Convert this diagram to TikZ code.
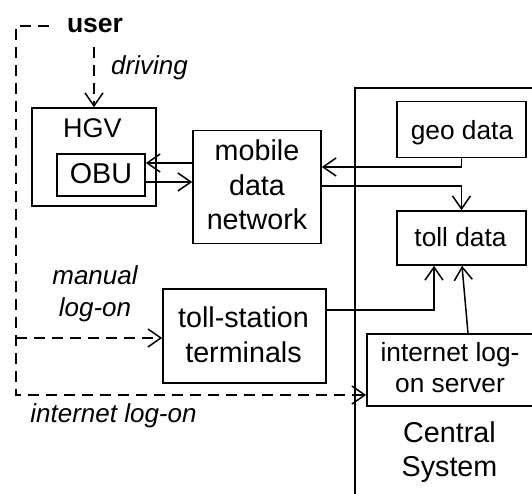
\documentclass[tikz,border=0pt]{standalone}
\usepackage{fontspec}
\setmainfont{Liberation Sans}
\usetikzlibrary{arrows.meta}
\begin{document}
\begin{tikzpicture}[x=1pt,y=-1pt,
  box/.style={draw, line width=1.6pt, inner sep=0pt},
  big/.style={inner sep=0pt, align=center, font=\fontsize{28.7}{34.5}\selectfont},
  mid/.style={inner sep=0pt, align=center, font=\fontsize{26.3}{31}\selectfont},
  lbl/.style={inner sep=0pt, align=center, font=\fontsize{26}{32}\selectfont\itshape},
  arr/.style={line width=1.5pt, -{Straight Barb[length=13pt,width=18pt,line width=1.5pt]}},
  ln/.style={line width=1.5pt},
  dsh/.style={line width=2.8pt, dash pattern=on 11pt off 7pt},
  darr/.style={-{Straight Barb[length=13pt,width=18pt,line width=1.5pt]}}]
\clip (0,0) rectangle (532,494);
\fill[white] (0,0) rectangle (532,494);
% central system outline
\draw[ln] (355,500) -- (355,88) -- (540,88);
\node[big] (cs) at (449.5,452) {Central\\System};
% boxes
\node[box, minimum width=124pt, minimum height=98pt] (hgv) at (94,157) {};
\node[inner sep=0pt, font=\fontsize{27}{32}\selectfont] (hgvt) at (92.5,128.5) {HGV};
\node[box, minimum width=88pt, minimum height=42pt] (obu) at (101,175) {};
\node[big] (obut) at (101,173.5) {OBU};
\node[box, minimum width=128pt, minimum height=113pt] (mob) at (257,187) {};
\node[big] (mobt) at (257,185) {mobile\\data\\network};
\node[box, minimum width=129pt, minimum height=56pt] (geo) at (461.5,129.5) {};
\node[mid] (geot) at (462,133.2) {geo data};
\node[box, minimum width=129pt, minimum height=54pt] (toll) at (461.5,238) {};
\node[mid] (tollt) at (460.5,237.4) {toll data};
\node[box, minimum width=163pt, minimum height=94pt] (ts) at (244.5,336) {};
\node[big] (tst) at (243.5,334.5) {toll-station\\terminals};
\node[box, minimum width=178pt, minimum height=72pt] (srv) at (456,370) {};
\node[mid] (srvt) at (450,368) {internet log-\\on server};
% solid connectors
\coordinate (m1) at ([yshift=24pt]mob.west);
\draw[arr] (m1) -- (m1 -| obu.east);
\coordinate (o1) at ([yshift=-7pt]obu.east);
\draw[arr] (o1) -- (o1 -| mob.west);
\coordinate (m2) at ([yshift=20pt]mob.east);
\draw[arr] (geo.south) |- (m2);
\coordinate (m3) at ([yshift=1pt]mob.east);
\draw[arr] (m3) -| (toll.north);
\coordinate (t1) at ([yshift=26pt]ts.east);
\coordinate (t2) at ([xshift=-27.5pt]toll.south);
\draw[arr] (t1) -| (t2);
\draw[arr] ([xshift=12pt]srv.north) -- ([xshift=0.5pt]toll.south);
% user and dashed connectors
\node[inner sep=0pt, anchor=base, font=\fontsize{26.5}{33}\selectfont\bfseries] (user) at (95,33) {user};
\coordinate (ustart) at (49,26);
\coordinate (ucorner) at (16,26);
\coordinate (ib) at (16,395);
\coordinate (mb) at (16,338);
\coordinate (dstart) at (94,47);
\draw[dsh, darr] (ustart) -- (ucorner) -- (ib) -- (ib -| srv.west);
\draw[dsh, darr] (mb) -- (mb -| ts.west);
\draw[dsh, darr] (dstart) -- (hgv.north);
% labels
\node[lbl, anchor=base west] (ldrv) at (111,75) {driving};
\node[lbl] (lman) at (95,294) {manual\\log-on};
\node[lbl] (lint) at (113.5,416) {internet log-on};
\end{tikzpicture}
\end{document}
